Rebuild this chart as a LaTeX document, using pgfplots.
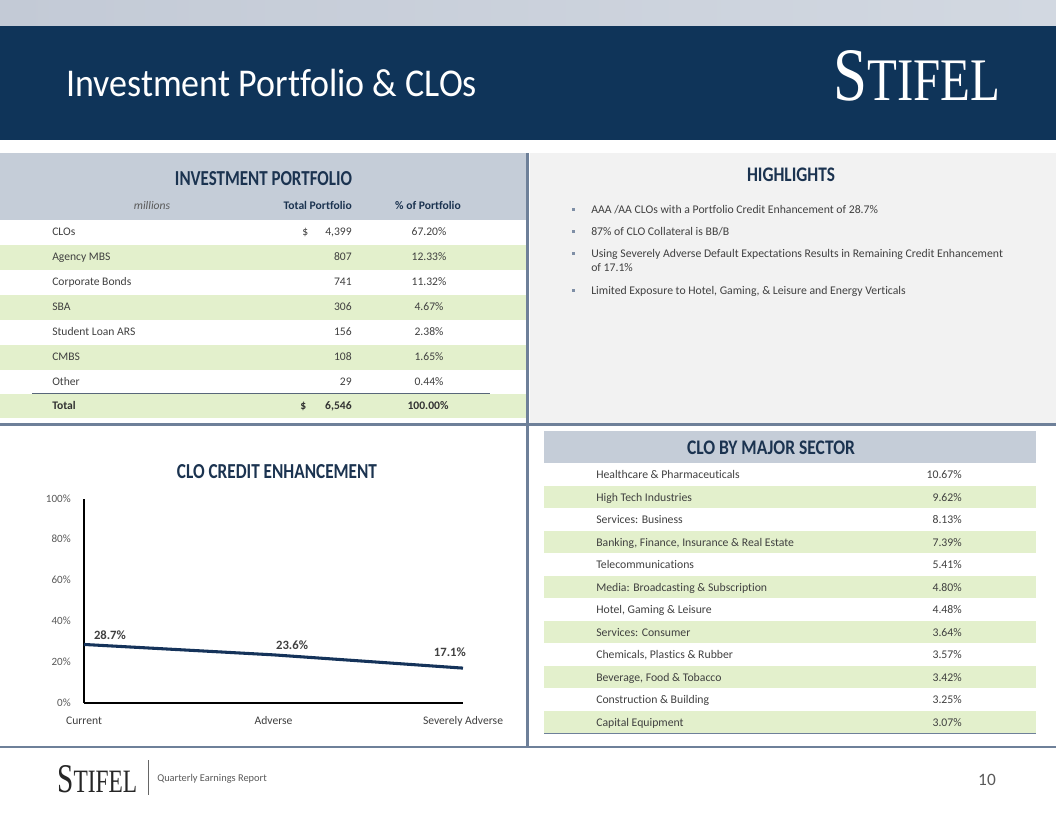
\documentclass[border=0pt]{standalone}
\usepackage{pgfplots}
\pgfplotsset{compat=1.18}
\usepackage{fontspec}
\setmainfont{Carlito}[Ligatures=NoCommon]
\newfontfamily\logofont{Liberation Serif}
\definecolor{navy}{HTML}{0F3459}
\definecolor{topA}{HTML}{C3CAD6}
\definecolor{topB}{HTML}{D2D8E1}
\definecolor{hdr}{HTML}{C5CDD8}
\definecolor{grn}{HTML}{E3F0CC}
\definecolor{hl}{HTML}{F2F2F2}
\definecolor{sep}{HTML}{6E8099}
\definecolor{ttl}{HTML}{1B3350}
\definecolor{txt}{HTML}{404040}
\definecolor{lightxt}{HTML}{595959}
\definecolor{linec}{HTML}{15335A}
\definecolor{bul}{HTML}{7F8FA6}
\begin{document}
\begin{tikzpicture}[x=0.75pt,y=-0.75pt,
  tb/.style={inner sep=0pt, font=\fontsize{8.7}{10}\selectfont, text=txt},
  hb/.style={inner sep=0pt, font=\fontsize{8.8}{10}\selectfont, text=txt},
  bb/.style={inner sep=0pt, font=\fontsize{8.7}{10}\selectfont\bfseries, text=ttl}]
% background
\fill[white] (0,0) rectangle (1056,816);
\shade[left color=topA, right color=topB] (0,0) rectangle (1056,26);
\fill[navy] (0,26) rectangle (1056,140);
\node[inner sep=0pt, anchor=base west, text=white] at (66,97)
  {\resizebox{308pt}{20.5pt}{\fontsize{28}{30}\selectfont Investment Portfolio \& CLOs}};
\node[inner sep=0pt, anchor=base west, text=white] at (833,101)
  {\resizebox{125.25pt}{37.5pt}{\logofont\fontsize{40}{40}\selectfont S\fontsize{32}{32}\selectfont TIFEL}};
% left panel
\fill[hdr] (0,153) rectangle (526,220);
\fill[grn] (0,245) rectangle (526,270);
\fill[grn] (0,295) rectangle (526,320);
\fill[grn] (0,345) rectangle (526,370);
\fill[grn] (0,394) rectangle (526,418);
\draw[sep!80!black, line width=0.8pt] (32,393.5) -- (490,393.5);
% highlights panel
\fill[hl] (530,153) rectangle (1056,423);
% sector table background
\fill[hdr] (544,431) rectangle (1036,463);
\foreach \k in {0,...,5} {\fill[grn] (544,485.5+45*\k) rectangle (1036,508+45*\k);}
\draw[sep, line width=1pt] (544,733.5) -- (1036,733.5);
% separators
\fill[sep] (526,153) rectangle (529,748);
\fill[sep] (0,423) rectangle (1056,425.5);
\fill[sep] (0,746.3) rectangle (1056,748);
% panel titles
\node[inner sep=0pt, anchor=base, text=ttl] at (263.5,186)
  {\resizebox{132.75pt}{10.5pt}{\bfseries INVESTMENT PORTFOLIO}};
\node[inner sep=0pt, anchor=base, text=ttl] at (791,182)
  {\resizebox{66pt}{10.2pt}{\bfseries HIGHLIGHTS}};
\node[inner sep=0pt, anchor=base, text=ttl] at (277,478)
  {\resizebox{150pt}{10.5pt}{\bfseries CLO CREDIT ENHANCEMENT}};
\node[inner sep=0pt, anchor=base, text=ttl] at (771,454)
  {\resizebox{126pt}{10.2pt}{\bfseries CLO BY MAJOR SECTOR}};
% left table sub headers
\node[tb, anchor=mid, font=\fontsize{8.7}{10}\selectfont\itshape, text=lightxt] at (152,206) {millions};
\node[bb, anchor=mid east] at (352,206) {Total Portfolio};
\node[bb, anchor=mid] at (428,206) {\% of Portfolio};
% left table rows
\node[tb, anchor=mid west] at (52,232.5) {CLOs};
\node[tb, anchor=mid west] at (302,232.5) {\$};
\node[tb, anchor=mid east] at (352,232.5) {4,399};
\node[tb, anchor=mid] at (429,232.5) {67.20\%};
\node[tb, anchor=mid west] at (52,257.5) {Agency MBS};
\node[tb, anchor=mid east] at (352,257.5) {807};
\node[tb, anchor=mid] at (429,257.5) {12.33\%};
\node[tb, anchor=mid west] at (52,282.5) {Corporate Bonds};
\node[tb, anchor=mid east] at (352,282.5) {741};
\node[tb, anchor=mid] at (429,282.5) {11.32\%};
\node[tb, anchor=mid west] at (52,307.5) {SBA};
\node[tb, anchor=mid east] at (352,307.5) {306};
\node[tb, anchor=mid] at (429,307.5) {4.67\%};
\node[tb, anchor=mid west] at (52,332.5) {Student Loan ARS};
\node[tb, anchor=mid east] at (352,332.5) {156};
\node[tb, anchor=mid] at (429,332.5) {2.38\%};
\node[tb, anchor=mid west] at (52,357.5) {CMBS};
\node[tb, anchor=mid east] at (352,357.5) {108};
\node[tb, anchor=mid] at (429,357.5) {1.65\%};
\node[tb, anchor=mid west] at (52,382) {Other};
\node[tb, anchor=mid east] at (352,382) {29};
\node[tb, anchor=mid] at (429,382) {0.44\%};
\node[bb, anchor=mid west, text=txt!80!black] at (52,406) {Total};
\node[bb, anchor=mid west, text=txt!80!black] at (300,406) {\$};
\node[bb, anchor=mid east, text=txt!80!black] at (352,406) {6,546};
\node[bb, anchor=mid, text=txt!80!black] at (428,406) {100.00\%};
% highlights
\foreach \yy in {210,232,254,291} {\fill[bul] (571.5,\yy-1.5) rectangle (574.5,\yy+1.5);}
\node[hb, anchor=mid west] at (591,210) {AAA /AA CLOs with a Portfolio Credit Enhancement of 28.7\%};
\node[hb, anchor=mid west] at (591,232) {87\% of CLO Collateral is BB/B};
\node[hb, anchor=mid west] at (591,254) {Using Severely Adverse Default Expectations Results in Remaining Credit Enhancement};
\node[hb, anchor=mid west] at (591,268.5) {of 17.1\%};
\node[hb, anchor=mid west] at (591,291) {Limited Exposure to Hotel, Gaming, \& Leisure and Energy Verticals};
% sector table
\node[hb, anchor=mid west] at (596,475.5) {Healthcare \& Pharmaceuticals};
\node[hb, anchor=mid east] at (962,475.5) {10.67\%};
\node[hb, anchor=mid west] at (596,498) {High Tech Industries};
\node[hb, anchor=mid east] at (962,498) {9.62\%};
\node[hb, anchor=mid west] at (596,520.5) {Services: Business};
\node[hb, anchor=mid east] at (962,520.5) {8.13\%};
\node[hb, anchor=mid west] at (596,543) {Banking, Finance, Insurance \& Real Estate};
\node[hb, anchor=mid east] at (962,543) {7.39\%};
\node[hb, anchor=mid west] at (596,565.5) {Telecommunications};
\node[hb, anchor=mid east] at (962,565.5) {5.41\%};
\node[hb, anchor=mid west] at (596,588) {Media: Broadcasting \& Subscription};
\node[hb, anchor=mid east] at (962,588) {4.80\%};
\node[hb, anchor=mid west] at (596,610.5) {Hotel, Gaming \& Leisure};
\node[hb, anchor=mid east] at (962,610.5) {4.48\%};
\node[hb, anchor=mid west] at (596,633) {Services: Consumer};
\node[hb, anchor=mid east] at (962,633) {3.64\%};
\node[hb, anchor=mid west] at (596,655.5) {Chemicals, Plastics \& Rubber};
\node[hb, anchor=mid east] at (962,655.5) {3.57\%};
\node[hb, anchor=mid west] at (596,678) {Beverage, Food \& Tobacco};
\node[hb, anchor=mid east] at (962,678) {3.42\%};
\node[hb, anchor=mid west] at (596,700.5) {Construction \& Building};
\node[hb, anchor=mid east] at (962,700.5) {3.25\%};
\node[hb, anchor=mid west] at (596,723) {Capital Equipment};
\node[hb, anchor=mid east] at (962,723) {3.07\%};
% chart
\begin{axis}[at={(63pt,-527.25pt)}, anchor=south west, scale only axis,
  width=284.25pt, height=153pt,
  xmin=0, xmax=2, ymin=0, ymax=100,
  axis x line=bottom, axis y line=left,
  axis line style={black, line width=0.9pt, -},
  xtick={0,1,2}, xticklabels={Current,Adverse,Severely Adverse},
  ytick={0,20,40,60,80,100},
  yticklabels={0\%,20\%,40\%,60\%,80\%,100\%},
  major tick length=0pt,
  xticklabel style={anchor=mid, yshift=-13.5pt, inner sep=0pt, font=\fontsize{8.7}{10}\selectfont, text=txt},
  yticklabel style={anchor=mid east, xshift=-9.75pt, inner sep=0pt, font=\fontsize{8.3}{10}\selectfont, text=lightxt},
  clip=false]
\addplot[linec, line width=2.3pt, mark=none] coordinates {(0,28.7) (1,23.6) (2,17.1)};
\node[inner sep=0pt, anchor=mid, font=\fontsize{9.5}{10}\selectfont\bfseries, text=txt] at (axis cs:0.137,32.9) {28.7\%};
\node[inner sep=0pt, anchor=mid, font=\fontsize{9.5}{10}\selectfont\bfseries, text=txt] at (axis cs:1.098,28.0) {23.6\%};
\node[inner sep=0pt, anchor=mid, font=\fontsize{9.5}{10}\selectfont\bfseries, text=txt] at (axis cs:1.931,24.5) {17.1\%};
\end{axis}
% footer
\node[inner sep=0pt, anchor=base west, text=black!85] at (57,792)
  {\resizebox{60pt}{20.25pt}{\logofont\fontsize{40}{40}\selectfont S\fontsize{32}{32}\selectfont TIFEL}};
\draw[black!60, line width=0.7pt] (148,760) -- (148,795);
\node[inner sep=0pt, anchor=mid west, font=\fontsize{7.8}{9}\selectfont, text=lightxt] at (157,778) {Quarterly Earnings Report};
\node[inner sep=0pt, anchor=mid, font=\fontsize{13}{14}\selectfont, text=lightxt] at (987,782) {10};
\end{tikzpicture}
\end{document}
